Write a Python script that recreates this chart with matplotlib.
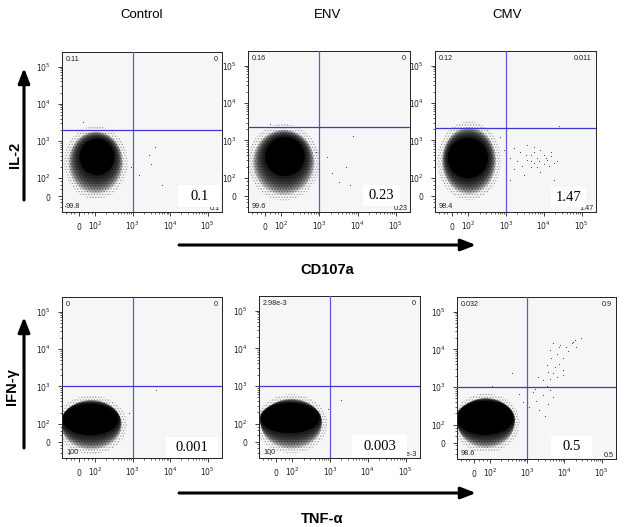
import matplotlib
matplotlib.use("Agg")
import matplotlib.pyplot as plt
from matplotlib.patches import Ellipse, Rectangle, FancyArrowPatch
from matplotlib.transforms import blended_transform_factory
import numpy as np

plt.rcParams['font.family'] = ['Liberation Sans', 'DejaVu Sans']
plt.rcParams['hatch.linewidth'] = 0.6

# ---------------- data (axis units = log10 of fluorescence, biexponential display) -------------
titles = ["Control", "ENV", "CMV"]
y_labels = ["IL-2", "IFN-γ"]
x_labels = ["CD107a", "TNF-α"]

tick_labels = ["$0$", "$10^2$", "$10^3$", "$10^4$", "$10^5$"]
tick_values = [1.57, 2, 3, 4, 5]          # position of the "0" tick in decade units, then decades

# quadrant gates (decade units): vertical and horizontal gate per panel
gate_x = [3.0, 3.0, 3.0, 3.0, 3.0, 3.0]
gate_y = [3.3, 3.35, 3.33, 3.0, 3.0, 3.0]

# quadrant frequencies: upper-left, upper-right, lower-left, lower-right
q_ul = ["0.11", "0.16", "0.12", "0", "2.98e-3", "0.032"]
q_ur = ["0", "0", "0.011", "0", "0", "0.9"]
q_ll = ["99.8", "99.6", "98.4", "100", "100", "98.6"]
q_lr = ["0.1", "0.23", "1.47", "", "3e-3", "0.5"]

# highlighted values (big numbers)
highlight = ["0.1", "0.23", "1.47", "0.001", "0.003", "0.5"]

# main population: dense core (centre, half-widths) and sparse halo (centre, half-widths)
core_cx = [2.05, 2.09, 1.99, 1.88, 1.94, 1.87]
core_cy = [2.57, 2.57, 2.53, 2.12, 2.15, 2.18]
core_sx = [0.46, 0.52, 0.53, 0.74, 0.78, 0.76]
core_sy = [0.49, 0.52, 0.54, 0.42, 0.40, 0.45]
halo_cx = [2.02, 2.06, 2.02, 1.90, 1.98, 1.90]
halo_cy = [2.42, 2.42, 2.46, 1.98, 2.00, 2.05]
halo_sx = [0.85, 0.95, 0.84, 0.95, 0.95, 0.90]
halo_sy = [0.98, 1.02, 1.05, 0.78, 0.78, 0.78]

# sparse events
sparse_x = [
    [3.43, 3.48, 3.16, 3.78, 3.60, 1.68, 2.95, 1.2],
    [3.87, 3.70, 3.52, 3.20, 3.33, 3.79, 2.9, 1.7],
    [3.20, 3.38, 3.56, 3.65, 3.73, 3.82, 3.91, 4.00, 4.09, 4.18, 4.27, 4.35,
     3.73, 3.56, 3.29, 3.11, 3.82, 4.00, 3.65, 4.13, 3.91, 4.27, 3.47, 3.20,
     3.73, 3.11, 4.18, 3.52, 3.86, 4.05, 3.42, 3.65, 4.40, 2.95, 3.0, 2.85],
    [3.62, 2.9, 1.3],
    [3.30, 2.95, 1.4],
    [4.43, 4.29, 4.22, 4.19, 4.05, 3.88, 3.70, 3.61, 3.79, 3.65, 3.97, 3.84,
     3.75, 3.52, 3.70, 3.79, 3.61, 3.97, 3.42, 3.29, 3.52, 3.33, 3.61, 3.70,
     3.42, 3.24, 3.15, 3.56, 3.33, 3.06, 3.47, 2.79, 2.60, 2.33, 2.05, 4.10,
     3.95, 3.55, 3.85, 4.30, 3.20, 2.90],
]
sparse_y = [
    [2.61, 2.39, 2.08, 1.81, 2.83, 3.50, 2.3, 1.25],
    [3.13, 2.30, 1.90, 2.56, 2.13, 1.82, 2.7, 3.45],
    [2.79, 2.70, 2.87, 2.62, 2.70, 2.53, 2.75, 2.62, 2.49, 2.58, 2.41, 2.45,
     2.41, 2.49, 2.45, 2.53, 2.28, 2.37, 2.28, 2.32, 2.15, 1.94, 2.07, 2.24,
     2.83, 1.94, 2.70, 2.62, 2.45, 2.53, 2.32, 2.45, 3.38, 2.75, 2.2, 3.1],
    [2.90, 2.3, 1.2],
    [2.62, 2.4, 1.2],
    [4.29, 4.25, 4.20, 4.16, 4.07, 4.11, 4.16, 3.98, 3.89, 3.76, 3.76, 3.62,
     3.53, 3.58, 3.36, 3.27, 3.22, 3.31, 3.18, 3.27, 3.04, 3.00, 2.91, 2.73,
     2.78, 2.64, 2.87, 2.56, 2.38, 2.47, 2.24, 2.82, 3.36, 3.00, 3.04, 3.95,
     3.45, 3.40, 4.05, 4.05, 2.95, 2.60],
]

# ---------------- layout (pixels of the 625 x 527 reference) ----------------
W, H = 625, 527
boxes = [(62, 222, 52, 212), (248, 410, 51, 212), (435, 596, 51, 212),
         (62, 222, 297, 458), (259, 420, 296, 458), (457, 616, 297, 459)]
# white highlight box (axes fraction x0, x1, y0, y1)
hl_box = [(0.725, 0.99, 0.03, 0.17), (0.71, 0.94, 0.04, 0.17), (0.72, 0.94, 0.03, 0.155),
          (0.65, 0.975, 0.0, 0.13), (0.58, 0.92, 0.006, 0.14), (0.59, 0.85, 0.01, 0.14)]

fig = plt.figure(figsize=(W / 100, H / 100), dpi=100)
fig.patch.set_facecolor("white")

def fx(px):
    return px / W

def fy(py):
    return 1 - py / H

minor = [np.log10(m) + k for k in (2, 3, 4) for m in range(2, 10)] + [1.22, 1.35, 1.45, 1.7, 1.82, 1.92]
steps = np.linspace(0.0, 1.0, 10)

for i, (l, r, t, b) in enumerate(boxes):
    ax = fig.add_axes([fx(l), fy(b), (r - l) / W, (b - t) / H])
    ax.set_facecolor("#f6f6f6")
    ax.set_xlim(1.12, 5.38)
    ax.set_ylim(1.09, 5.39)
    for s in ax.spines.values():
        s.set_linewidth(0.7)
        s.set_color("#222222")
    ax.set_xticks(tick_values)
    ax.set_xticklabels([])
    ax.set_yticks([1.52, 2, 3, 4, 5])
    ax.set_yticklabels(tick_labels)
    ax.set_xticks(minor, minor=True)
    ax.set_yticks(minor, minor=True)
    ax.tick_params(which="major", direction="out", length=3, width=0.6, labelsize=5.5,
                   colors="#222222", pad=5)
    ax.tick_params(which="minor", direction="out", length=1.5, width=0.5, colors="#222222")
    # x tick labels on a common baseline
    trans = blended_transform_factory(ax.transData, ax.transAxes)
    for tv, tl in zip(tick_values, tick_labels):
        ax.text(tv, -0.112, tl, transform=trans, ha="center", va="baseline",
                fontsize=5.5, color="#222222", clip_on=False)

    # population cloud: speckled outer halo, gradient towards the dense core
    ax.add_patch(Ellipse((halo_cx[i], halo_cy[i]), 2 * halo_sx[i], 2 * halo_sy[i],
                         facecolor="none", edgecolor="#444444", lw=0, hatch="......",
                         alpha=0.5, zorder=2))
    for f in steps:
        ccx = halo_cx[i] + (core_cx[i] - halo_cx[i]) * f
        ccy = halo_cy[i] + (core_cy[i] - halo_cy[i]) * f
        wsx = halo_sx[i] * 0.85 + (core_sx[i] * 1.05 - halo_sx[i] * 0.85) * f
        wsy = halo_sy[i] * 0.85 + (core_sy[i] * 1.05 - halo_sy[i] * 0.85) * f
        ax.add_patch(Ellipse((ccx, ccy), 2 * wsx, 2 * wsy,
                             facecolor="black", edgecolor="none", alpha=0.2, zorder=2))
    ax.add_patch(Ellipse((core_cx[i], core_cy[i]), 2 * core_sx[i], 2 * core_sy[i],
                         facecolor="black", edgecolor="none", zorder=2))
    ax.scatter(sparse_x[i], sparse_y[i], s=0.6, color="#333333", linewidths=0, zorder=3)

    # gates
    ax.axvline(gate_x[i], color="#5a5ad8", lw=0.9, zorder=4)
    ax.axhline(gate_y[i], color="#3a3acc", lw=0.9, zorder=4)

    # quadrant numbers
    kw = dict(transform=ax.transAxes, fontsize=5.2, color="#222222", zorder=5)
    ax.text(0.025, 0.975, q_ul[i], ha="left", va="top", **kw)
    ax.text(0.975, 0.975, q_ur[i], ha="right", va="top", **kw)
    ax.text(0.025, 0.01, q_ll[i], ha="left", va="bottom", **kw)
    ax.text(0.985, 0.0, q_lr[i], ha="right", va="bottom", **kw)

    x0, x1, y0, y1 = hl_box[i]
    ax.add_patch(Rectangle((x0, y0), x1 - x0, y1 - y0, transform=ax.transAxes,
                           facecolor="white", edgecolor="none", zorder=6))
    ax.text((x0 + x1) / 2, (y0 + y1) / 2, highlight[i], transform=ax.transAxes,
            ha="center", va="center", fontsize=10.5, family="Liberation Serif", zorder=7)

# column titles
for txt, px in zip(titles, [142, 328, 507]):
    fig.text(fx(px), fy(15), txt, ha="center", va="center", fontsize=9.5)

# axis labels with arrows
arrow = dict(arrowstyle="-|>,head_length=0.9,head_width=0.35", color="black", lw=2.2,
             shrinkA=0, shrinkB=0)
for p0, p1 in [((24, 200), (24, 68)), ((24, 448), (24, 317)),
               ((179, 245), (476, 245)), ((179, 493), (476, 493))]:
    fig.add_artist(FancyArrowPatch((fx(p0[0]), fy(p0[1])), (fx(p1[0]), fy(p1[1])),
                   transform=fig.transFigure, mutation_scale=10, **arrow))

fig.text(fx(15), fy(155), y_labels[0], rotation=90, ha="center", va="center",
         fontsize=10.5, fontweight="bold")
fig.text(fx(12), fy(387), y_labels[1], rotation=90, ha="center", va="center",
         fontsize=10.5, fontweight="bold")
fig.text(fx(327), fy(270), x_labels[0], ha="center", va="center",
         fontsize=10.5, fontweight="bold")
fig.text(fx(322), fy(519), x_labels[1], ha="center", va="center",
         fontsize=10.5, fontweight="bold")

fig.savefig("out.png", dpi=100, facecolor="white")
